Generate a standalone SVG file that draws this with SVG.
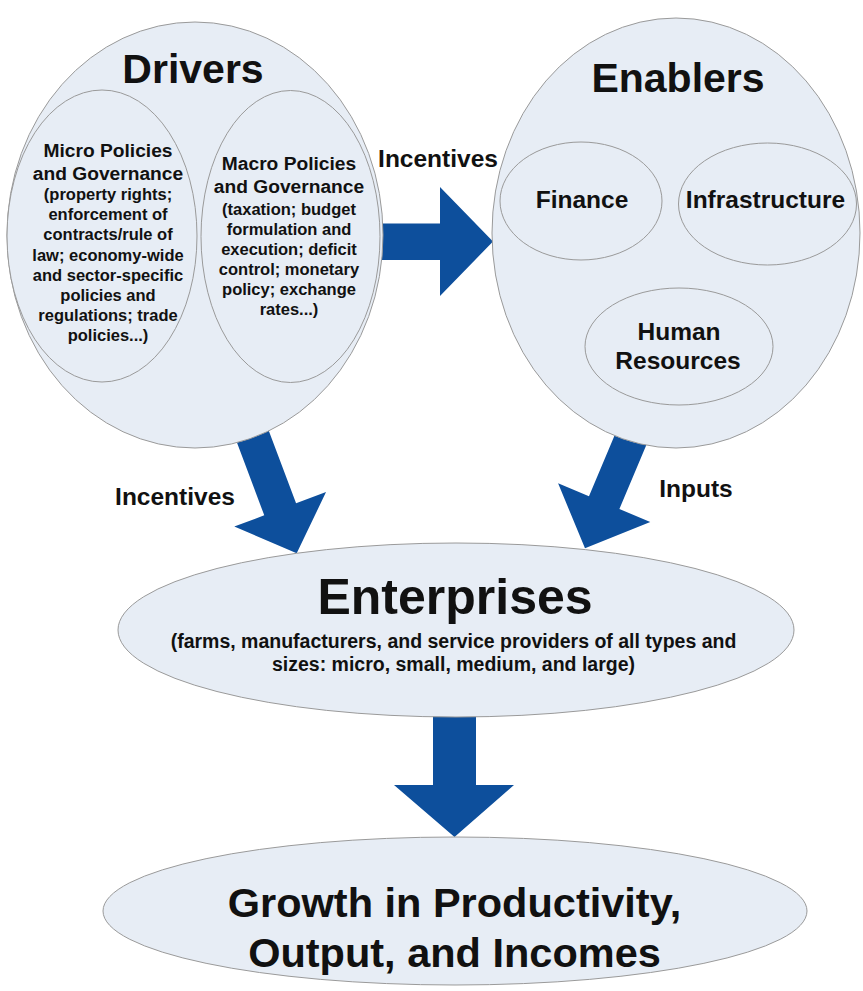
<svg xmlns="http://www.w3.org/2000/svg" width="863" height="991" viewBox="0 0 863 991">
<style>
.el{fill:#e7edf5;stroke:#9a9a9a;stroke-width:1}
.arr{fill:#0d4f9c}
text{font-family:"Liberation Sans",Arial,Helvetica,sans-serif;font-weight:bold;fill:#111;text-anchor:middle}
.t1{font-size:41px}
.t2{font-size:24.5px}
.h{font-size:19.2px}
.s{font-size:16.5px}
.sub{font-size:19.5px}
.ent{font-size:50px}
.gr{font-size:41.5px}
</style>
<rect width="863" height="991" fill="#ffffff"/>
<g id="connectors">
<polygon class="arr" points="378,223.5 440,223.5 440,187 493,241.5 440,296 440,260 378,260"/>
<polygon class="arr" transform="translate(296.7,553.3) rotate(69.4)" points="-150,-17 -47,-17 -47,-49 0,0 -47,49 -47,17 -150,17"/>
<polygon class="arr" transform="translate(585,548.3) rotate(112.8)" points="-150,-16.5 -49.5,-16.5 -49.5,-50 0,0 -49.5,50 -49.5,16.5 -150,16.5"/>
<polygon class="arr" points="433,690 476,690 476,785 514,785 454.5,837 394,785 433,785"/>
<text class="t2" x="438" y="167">Incentives</text>
<text class="t2" x="175" y="505">Incentives</text>
<text class="t2" x="696" y="497">Inputs</text>
</g>
<g id="drivers">
<ellipse class="el" cx="195" cy="235" rx="188" ry="213"/>
<text class="t1" x="193" y="83">Drivers</text>
</g>
<g id="micro">
<ellipse class="el" cx="102" cy="236" rx="95" ry="146"/>
<text class="h" x="108" y="157">Micro Policies</text>
<text class="h" x="108" y="180">and Governance</text>
<text class="s" x="108" y="200">(property rights;</text>
<text class="s" x="108" y="220.2">enforcement of</text>
<text class="s" x="108" y="240.4">contracts/rule of</text>
<text class="s" x="108" y="260.6">law; economy-wide</text>
<text class="s" x="108" y="280.8">and sector-specific</text>
<text class="s" x="108" y="301">policies and</text>
<text class="s" x="108" y="321.2">regulations; trade</text>
<text class="s" x="108" y="341.4">policies...)</text>
</g>
<g id="macro">
<ellipse class="el" cx="290.5" cy="236.5" rx="89.5" ry="146"/>
<text class="h" x="289" y="170">Macro Policies</text>
<text class="h" x="289" y="193">and Governance</text>
<text class="s" x="289" y="215">(taxation; budget</text>
<text class="s" x="289" y="235">formulation and</text>
<text class="s" x="289" y="255">execution; deficit</text>
<text class="s" x="289" y="275">control; monetary</text>
<text class="s" x="289" y="295">policy; exchange</text>
<text class="s" x="289" y="315">rates...)</text>
</g>
<g id="enablers">
<ellipse class="el" cx="676" cy="233" rx="184" ry="215"/>
<text class="t1" x="678" y="92">Enablers</text>
</g>
<g id="finance">
<ellipse class="el" cx="581" cy="201" rx="81" ry="59"/>
<text class="t2" x="582" y="208">Finance</text>
</g>
<g id="infrastructure">
<ellipse class="el" cx="767.5" cy="204" rx="89" ry="61"/>
<text class="t2" x="765.5" y="208">Infrastructure</text>
</g>
<g id="human">
<ellipse class="el" cx="679" cy="346.5" rx="94" ry="58.5"/>
<text class="t2" x="679" y="340">Human</text>
<text class="t2" x="678" y="369">Resources</text>
</g>
<g id="enterprises">
<ellipse class="el" cx="456" cy="630" rx="338" ry="87"/>
<text class="ent" x="455" y="614">Enterprises</text>
<text class="sub" x="453.5" y="648">(farms, manufacturers, and service providers of all types and</text>
<text class="sub" x="453.5" y="670.5">sizes: micro, small, medium, and large)</text>
</g>
<g id="growth">
<ellipse class="el" cx="455" cy="911" rx="352" ry="74"/>
<text class="gr" x="454.5" y="917">Growth in Productivity,</text>
<text class="gr" x="454.5" y="967">Output, and Incomes</text>
</g>
</svg>
